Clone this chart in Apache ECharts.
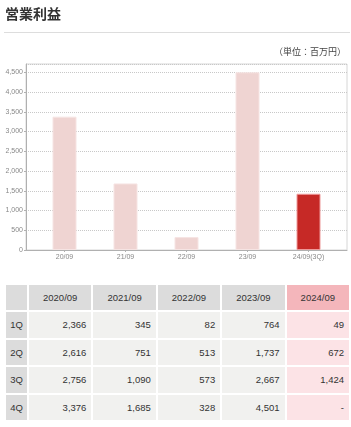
<!DOCTYPE html>
<html>
<head>
<meta charset="utf-8">
<script src="https://cdn.jsdelivr.net/npm/echarts@6/dist/echarts.min.js"></script>
<style>
  html, body { margin: 0; padding: 0; background: #fff; }
  body { width: 351px; height: 427px; position: relative; overflow: hidden; font-family: "Liberation Sans", "Noto Sans CJK JP", sans-serif; color: #333; }
  #title { position: absolute; left: 5px; top: 6px; font: bold 14px/14px "Noto Sans CJK JP"; color: #333; }
  #rule { position: absolute; left: 4px; top: 32px; width: 346px; height: 0; border-top: 1px solid #ddd; }
  #unit { position: absolute; right: 5px; top: 45px; font: 9px "Noto Sans CJK JP"; color: #444; }
  #chart { position: absolute; left: 0; top: 0; width: 351px; height: 280px; }
  #tbl { position: absolute; left: 4px; top: 283px; border-collapse: collapse; table-layout: fixed; width: 347px; }
  #tbl td { border: 2px solid #fff; height: 25.5px; padding: 0 5px; font-size: 9.5px; background: #f1f1ef; text-align: right; white-space: nowrap; }
  #tbl tr:first-child td { height: 25px; background: #dcdcdc; text-align: center; }
  #tbl td.q { background: #dcdcdc; text-align: center; padding: 0; }
  #tbl tr:first-child td.cur { background: #f4b6bb; }
  #tbl td.cur { background: #fce3e6; }
</style>
</head>
<body>
<div id="chart"></div>
<div id="title">営業利益</div>
<div id="rule"></div>
<div id="unit">（単位：百万円）</div>
<table id="tbl"></table>
<script>
// chart data (百万円)
const periods = ['20/09', '21/09', '22/09', '23/09', '24/09(3Q)']
const profit = [3376, 1685, 328, 4501, 1424]

// table data
const fiscalYears = ['2020/09', '2021/09', '2022/09', '2023/09', '2024/09']
const quarters = ['1Q', '2Q', '3Q', '4Q']
const fy2020 = [2366, 2616, 2756, 3376]
const fy2021 = [345, 751, 1090, 1685]
const fy2022 = [82, 513, 573, 328]
const fy2023 = [764, 1737, 2667, 4501]
const fy2024 = [49, 672, 1424, null]

const yMax = 4710

// build table
const cols = [fy2020, fy2021, fy2022, fy2023, fy2024]
const fmt = v => v === null ? '-' : v.toLocaleString('en-US')
let html = '<colgroup><col style="width:23px">' + fiscalYears.map(() => '<col>').join('') + '</colgroup>'
html += '<tr><td class="q"></td>' + fiscalYears.map((y, i) =>
  `<td${i === fiscalYears.length - 1 ? ' class="cur"' : ''}>${y}</td>`).join('') + '</tr>'
quarters.forEach((q, r) => {
  html += `<tr><td class="q">${q}</td>` + cols.map((c, i) =>
    `<td${i === cols.length - 1 ? ' class="cur"' : ''}>${fmt(c[r])}</td>`).join('') + '</tr>'
})
document.getElementById('tbl').innerHTML = html

const chart = echarts.init(document.getElementById('chart'), null, { renderer: 'canvas' })
const labelFont = { fontSize: 7, color: '#888', fontFamily: 'Liberation Sans' }

chart.setOption({
  animation: false,
  grid: [
    // outer frame with y axis + gridlines
    { left: 26, right: 4, top: 64, bottom: 30, show: true, borderColor: '#d6d6d6', borderWidth: 1 },
    // bars
    { left: 34, right: 12, top: 64, bottom: 30 }
  ],
  xAxis: [{
    gridIndex: 0,
    type: 'value',
    min: 0,
    max: 1,
    axisLine: { show: true, lineStyle: { color: '#b0b0b0' } },
    axisTick: { show: false },
    axisLabel: { show: false },
    splitLine: { show: false }
  }, {
    gridIndex: 1,
    type: 'category',
    data: periods,
    axisLine: { show: false },
    axisTick: { show: true, alignWithLabel: true, length: 2, lineStyle: { color: '#b0b0b0' } },
    axisLabel: Object.assign({ margin: 4 }, labelFont)
  }],
  yAxis: [{
    gridIndex: 0,
    type: 'value',
    min: 0,
    max: yMax,
    interval: 500,
    axisLine: { show: true, lineStyle: { color: '#b0b0b0' } },
    axisTick: { show: true, length: 2, lineStyle: { color: '#b0b0b0' } },
    axisLabel: Object.assign({
      margin: 3,
      showMaxLabel: false,
      formatter: v => v % 500 === 0 ? v.toLocaleString('en-US') : ''
    }, labelFont),
    splitLine: { show: true, lineStyle: { color: '#c8c8c8', type: [1, 1] } }
  }, {
    gridIndex: 1,
    type: 'value',
    min: 0,
    max: yMax,
    show: false,
    splitLine: { show: false }
  }],
  series: [{
    type: 'bar',
    xAxisIndex: 1,
    yAxisIndex: 1,
    barWidth: 24,
    data: profit.map((v, i) => ({
      value: v,
      itemStyle: i === profit.length - 1
        ? { color: '#c62926', borderColor: '#ee9a9a', borderWidth: 1 }
        : { color: '#efd4d2', borderColor: '#f6e4e3', borderWidth: 1 }
    }))
  }]
})
</script>
</body>
</html>
